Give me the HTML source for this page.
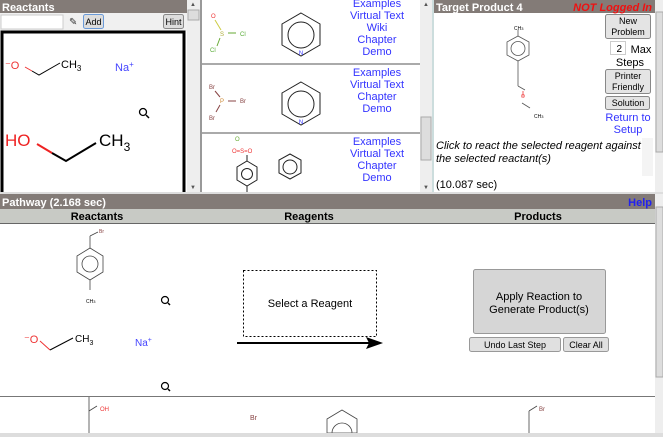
<!DOCTYPE html>
<html><head><meta charset="utf-8"><style>
body{margin:0;width:663px;height:437px;overflow:hidden;background:#fff;font-family:"Liberation Sans",sans-serif}
svg{display:block}
</style></head><body>
<svg width="663" height="437" xmlns="http://www.w3.org/2000/svg" font-family="Liberation Sans, sans-serif">
<rect width="663" height="437" fill="#fff"/>
<!-- Left panel -->
<rect x="0" y="0" width="187" height="13" fill="#837b77"/>
<text x="2" y="11" font-size="11" font-weight="bold" fill="#fff">Reactants</text>
<rect x="0" y="13" width="187" height="18" fill="#f0f0f0"/>
<rect x="1" y="15" width="62" height="14" fill="#fff" stroke="#ccc"/>
<text x="69" y="25" font-size="10" fill="#333">✎</text>
<rect x="83.5" y="14.5" width="20" height="14" rx="2" fill="#ddd" stroke="#6a9ad8"/>
<text x="93.5" y="25" font-size="9" text-anchor="middle">Add</text>
<rect x="163.5" y="14.5" width="20" height="14" rx="2" fill="#ddd" stroke="#888"/>
<text x="173.5" y="25" font-size="9" text-anchor="middle">Hint</text>
<rect x="2" y="32" width="182" height="162" fill="#fff" stroke="#000" stroke-width="3"/>
<text x="5" y="69" font-size="11" fill="#e33">⁻O</text>
<line x1="25" y1="67" x2="32" y2="71" stroke="#e33"/>
<polyline points="32,71 39,75 60,63" fill="none" stroke="#000" stroke-width="1"/>
<text x="61" y="68" font-size="11">CH<tspan font-size="8" dy="3">3</tspan></text>
<text x="115" y="71" font-size="11" fill="#44f">Na<tspan font-size="8" dy="-4">+</tspan></text>
<circle cx="143" cy="112" r="3.5" fill="none" stroke="#000" stroke-width="1.3"/><line x1="146" y1="115" x2="149" y2="118" stroke="#000" stroke-width="1.5"/>
<text x="5" y="146" font-size="17" fill="#e22">HO</text>
<line x1="37" y1="144" x2="52" y2="153" stroke="#e22" stroke-width="2"/>
<polyline points="52,153 66,161 96,143" fill="none" stroke="#000" stroke-width="2"/>
<text x="99" y="146" font-size="17">CH<tspan font-size="12" dy="5">3</tspan></text>
<!-- left scrollbar -->
<rect x="187" y="0" width="13" height="192" fill="#eee"/>
<rect x="188" y="10" width="11" height="10" fill="#ddd" stroke="#aaa"/>
<text x="193" y="6" font-size="6" text-anchor="middle" fill="#555">▲</text>
<text x="193" y="189" font-size="6" text-anchor="middle" fill="#555">▼</text>
<!-- Middle panel -->
<line x1="201" y1="0" x2="201" y2="192" stroke="#999" stroke-width="2"/>
<line x1="202" y1="64" x2="420" y2="64" stroke="#555"/>
<line x1="202" y1="133" x2="420" y2="133" stroke="#555"/>
<g font-size="11" fill="#33f" text-anchor="middle">
<text x="377" y="7">Examples</text><text x="377" y="19">Virtual Text</text><text x="377" y="31">Wiki</text><text x="377" y="43">Chapter</text><text x="377" y="55">Demo</text>
<text x="377" y="76">Examples</text><text x="377" y="88">Virtual Text</text><text x="377" y="100">Chapter</text><text x="377" y="112">Demo</text>
<text x="377" y="145">Examples</text><text x="377" y="157">Virtual Text</text><text x="377" y="169">Chapter</text><text x="377" y="181">Demo</text>
</g>
<g font-size="6">
<text x="211" y="18" fill="#e33">O</text><line x1="215" y1="20" x2="221" y2="30" stroke="#cc4"/>
<text x="220" y="36" fill="#aa3">S</text><line x1="228" y1="33" x2="236" y2="33" stroke="#6a3"/>
<text x="240" y="36" fill="#5a3">Cl</text><line x1="220" y1="38" x2="217" y2="46" stroke="#6a3"/>
<text x="210" y="52" fill="#5a3">Cl</text>
<text x="209" y="89" fill="#844">Br</text><line x1="215" y1="91" x2="220" y2="97" stroke="#844"/>
<text x="220" y="103" fill="#c83">P</text><line x1="228" y1="101" x2="236" y2="101" stroke="#844"/>
<text x="240" y="103" fill="#844">Br</text><line x1="220" y1="105" x2="216" y2="112" stroke="#844"/>
<text x="209" y="120" fill="#844">Br</text>
<text x="235" y="141" fill="#6a3">O</text>
<text x="232" y="153" fill="#e33">O=S=O</text>
</g>
<g fill="none" stroke="#222">
<polygon points="301,13 320,24 320,45 301,56 282,45 282,24"/><circle cx="301" cy="35" r="13"/>
<polygon points="301,82 320,93 320,114 301,125 282,114 282,93"/><circle cx="301" cy="104" r="13"/>
<polygon points="290,154 301,160 301,173 290,179 279,173 279,160"/><circle cx="290" cy="167" r="7"/>
<polygon points="247,161 257,167 257,180 247,186 237,180 237,167"/><circle cx="247" cy="174" r="5.5"/>
<line x1="247" y1="155" x2="247" y2="161"/><line x1="247" y1="186" x2="247" y2="192"/>
</g>
<text x="301" y="55" font-size="6" fill="#33f" text-anchor="middle">N</text>
<text x="301" y="124" font-size="6" fill="#33f" text-anchor="middle">N</text>
<!-- mid scrollbar -->
<rect x="420" y="0" width="12" height="192" fill="#eee"/>
<rect x="421" y="117" width="10" height="43" fill="#ddd" stroke="#aaa"/>
<text x="426" y="6" font-size="6" text-anchor="middle" fill="#555">▲</text>
<text x="426" y="189" font-size="6" text-anchor="middle" fill="#555">▼</text>
<line x1="433" y1="0" x2="433" y2="192" stroke="#9bb"/>
<!-- Right panel -->
<rect x="434" y="0" width="221" height="13" fill="#837b77"/>
<text x="436" y="11" font-size="11" font-weight="bold" fill="#fff">Target Product 4</text>
<text x="652" y="11" font-size="11" font-weight="bold" font-style="italic" fill="#e11" text-anchor="end">NOT Logged In</text>
<g fill="none" stroke="#555" stroke-width="0.8">
<polygon points="518,36 529,42 529,55 518,61 507,55 507,42"/><circle cx="518" cy="48.5" r="7"/>
<line x1="518" y1="30" x2="518" y2="36"/><line x1="518" y1="61" x2="518" y2="86"/>
<line x1="518" y1="86" x2="525" y2="90"/><line x1="522" y1="103" x2="530" y2="108"/>
</g>
<line x1="523" y1="91" x2="523" y2="97" stroke="#e33" stroke-width="0.8"/>
<text x="523" y="98" font-size="5" fill="#e33" text-anchor="middle">O</text>
<text x="514" y="30" font-size="5">CH<tspan font-size="4">3</tspan></text>
<text x="534" y="118" font-size="5">CH<tspan font-size="4">3</tspan></text>
<g font-size="9" text-anchor="middle">
<rect x="605.5" y="14.5" width="45" height="24" rx="2" fill="#e4e4e4" stroke="#888"/>
<text x="628" y="24">New</text><text x="628" y="35">Problem</text>
<rect x="610.5" y="41.5" width="15" height="13" fill="#fff" stroke="#ccc"/>
<text x="622" y="52" text-anchor="end" font-size="10">2</text>
<text x="641" y="53" font-size="11">Max</text><text x="630" y="66" font-size="11">Steps</text>
<rect x="605.5" y="69.5" width="45" height="24" rx="2" fill="#e4e4e4" stroke="#888"/>
<text x="628" y="79">Printer</text><text x="628" y="90">Friendly</text>
<rect x="605.5" y="96.5" width="44" height="13" rx="2" fill="#e4e4e4" stroke="#888"/>
<text x="628" y="106">Solution</text>
<text x="628" y="121" font-size="11" fill="#33f">Return to</text>
<text x="628" y="133" font-size="11" fill="#33f">Setup</text>
</g>
<text x="436" y="149" font-size="11" font-style="italic">Click to react the selected reagent against</text>
<text x="436" y="162" font-size="11" font-style="italic">the selected reactant(s)</text>
<rect x="642" y="138" width="11" height="38" fill="#f4f4f4"/>
<text x="436" y="188" font-size="11">(10.087 sec)</text>
<rect x="655" y="0" width="8" height="192" fill="#eee"/>
<rect x="656" y="12" width="7" height="140" fill="#ddd" stroke="#aaa"/>
<!-- separator -->
<rect x="0" y="192" width="663" height="2" fill="#ddd"/>
<!-- Pathway -->
<rect x="0" y="194" width="655" height="15" fill="#837b77"/>
<text x="2" y="206" font-size="11" font-weight="bold" fill="#fff">Pathway (2.168 sec)</text>
<text x="652" y="206" font-size="11" font-weight="bold" fill="#22e" text-anchor="end">Help</text>
<rect x="0" y="209" width="655" height="14" fill="#c8cac5"/>
<line x1="0" y1="223.5" x2="655" y2="223.5" stroke="#666"/>
<g font-size="11" font-weight="bold" text-anchor="middle">
<text x="97" y="220">Reactants</text><text x="309" y="220">Reagents</text><text x="538" y="220">Products</text>
</g>
<rect x="655" y="194" width="8" height="239" fill="#eee"/>
<rect x="656" y="207" width="7" height="170" fill="#ddd" stroke="#aaa"/>
<!-- reactant molecule -->
<g fill="none" stroke="#444" stroke-width="0.8">
<polygon points="90,248 103,256 103,272 90,280 77,272 77,256"/><circle cx="90" cy="264" r="8"/>
<line x1="90" y1="236" x2="90" y2="248"/><line x1="90" y1="280" x2="90" y2="290"/>
<line x1="90" y1="236" x2="98" y2="232"/>
<line x1="89" y1="396" x2="89" y2="433"/><line x1="89" y1="411" x2="97" y2="406"/>
<line x1="529" y1="411" x2="529" y2="433"/><line x1="529" y1="411" x2="537" y2="406"/>
<polygon points="342,410 357,419 357,433 327,433 327,419"/><circle cx="342" cy="433" r="10"/>
</g>
<text x="99" y="233" font-size="5" fill="#844">Br</text>
<text x="86" y="303" font-size="5">CH<tspan font-size="4">3</tspan></text>
<text x="100" y="411" font-size="6" fill="#e33">OH</text>
<text x="539" y="411" font-size="6" fill="#844">Br</text>
<text x="250" y="420" font-size="7" fill="#844">Br</text>
<g>
<circle cx="165" cy="300" r="3.5" fill="none" stroke="#000" stroke-width="1.2"/><line x1="168" y1="303" x2="170" y2="305" stroke="#000" stroke-width="1.5"/>
<circle cx="165" cy="386" r="3.5" fill="none" stroke="#000" stroke-width="1.2"/><line x1="168" y1="389" x2="170" y2="391" stroke="#000" stroke-width="1.5"/>
</g>
<text x="24" y="343" font-size="11" fill="#e33">⁻O</text>
<line x1="40" y1="341" x2="50" y2="350" stroke="#e33"/>
<line x1="50" y1="350" x2="73" y2="338" stroke="#000"/>
<text x="75" y="342" font-size="10">CH<tspan font-size="7" dy="3">3</tspan></text>
<text x="135" y="346" font-size="10" fill="#44f">Na<tspan font-size="7" dy="-4">+</tspan></text>
<!-- reagent box -->
<rect x="243.5" y="270.5" width="133" height="66" fill="none" stroke="#000" stroke-dasharray="2,2"/>
<text x="310" y="307" font-size="11" text-anchor="middle">Select a Reagent</text>
<line x1="237" y1="343" x2="370" y2="343" stroke="#000" stroke-width="2"/>
<polygon points="383,343 366,337 369,343 366,349" fill="#000"/>
<!-- product buttons -->
<rect x="473.5" y="269.5" width="132" height="64" rx="2" fill="#d6d6d6" stroke="#999"/>
<text x="539" y="300" font-size="11" text-anchor="middle">Apply Reaction to</text>
<text x="539" y="313" font-size="11" text-anchor="middle">Generate Product(s)</text>
<rect x="469.5" y="337.5" width="91" height="14" rx="2" fill="#e0e0e0" stroke="#999"/>
<text x="515" y="348" font-size="9" text-anchor="middle">Undo Last Step</text>
<rect x="563.5" y="337.5" width="45" height="14" rx="2" fill="#e0e0e0" stroke="#999"/>
<text x="586" y="348" font-size="9" text-anchor="middle">Clear All</text>
<line x1="0" y1="396.5" x2="655" y2="396.5" stroke="#777"/>
<rect x="0" y="433" width="663" height="4" fill="#ddd"/>
</svg>
</body></html>
